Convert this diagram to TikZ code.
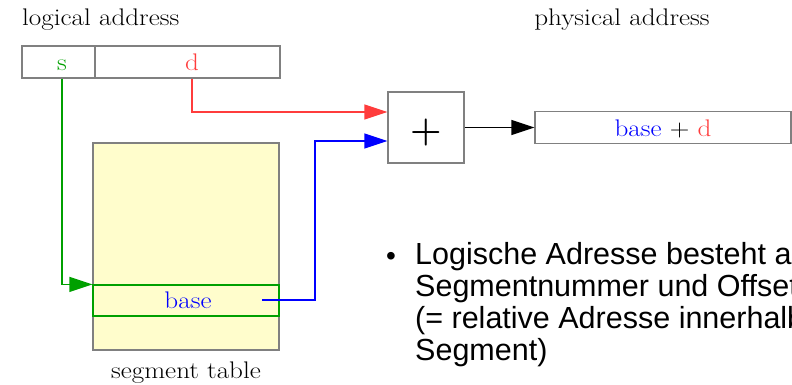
\documentclass[tikz,border=0pt]{standalone}
\usepackage{fontspec}
\newfontfamily\arialfont{Liberation Sans}
\newfontfamily\serifx{Latin Modern Roman}[FakeStretch=1.13]
\usetikzlibrary{arrows.meta}
\definecolor{cgreen}{RGB}{0,160,0}
\definecolor{cred}{RGB}{255,60,60}
\definecolor{cblue}{RGB}{0,0,255}
\definecolor{cgray}{RGB}{128,128,128}
\definecolor{cyellow}{RGB}{255,253,204}
\tikzset{
  box/.style={draw=cgray, line width=1.2pt, inner sep=0pt},
  lbl/.style={inner sep=0pt, font=\serifx\fontsize{24}{27}\selectfont},
  conn/.style={line width=1.3pt, -{Triangle[length=23pt,width=15pt]}},
}
\begin{document}
\begin{tikzpicture}[x=1pt,y=-1pt]
\useasboundingbox (0,0) rectangle (792,385);
\clip (0,0) rectangle (792,385);
% titles
\node[lbl, anchor=base west] (lt) at (22,26) {logical address};
\node[lbl, anchor=base] (pt) at (622,26) {physical address};
% logical address
\node[box, minimum width=73pt, minimum height=32pt] (s) at (58.5,62) {};
\node[box, minimum width=185pt, minimum height=32pt] (d) at (187.5,62) {};
\node[lbl, text=cgreen, anchor=base] (st) at (62,71) {s};
\node[lbl, text=cred, anchor=base] (dt) at (192,71) {d};
% plus
\node[box, minimum width=76pt, minimum height=71pt] (plus) at (426,127.5) {};
\node[inner sep=0pt, font=\bfseries\fontsize{36}{40}\selectfont] (plust) at (426,133) {+};
% physical
\node[box, minimum width=256pt, minimum height=32pt] (phys) at (663,127.5) {};
\node[lbl, anchor=base] (pht) at (663,136) {\textcolor{cblue}{base} + \textcolor{cred}{d}};
% segment table
\node[box, fill=cyellow, minimum width=186pt, minimum height=207pt] (tab) at (186,246.5) {};
\node[draw=cgreen, line width=1.2pt, inner sep=0pt, minimum width=186pt, minimum height=31pt] (row) at (186,300.5) {};
\node[lbl, text=cblue, anchor=base] (bt) at (188,308) {base};
\node[lbl, anchor=base] (segt) at (186,378) {segment table};
\coordinate (bend) at (262,300);
\coordinate (redin) at ([yshift=15.5pt]plus.west);
\coordinate (bluein) at ([yshift=-13.5pt]plus.west);
% connectors
\draw[conn, cgreen] (st.south |- s.south) |- (row.north west);
\draw[conn, cred] (dt.south |- d.south) |- (redin);
\draw[conn, cblue] (bend) -| (315,200) |- (bluein);
\draw[conn, black] (plus.east) -- (phys.west);
% bullet text
\node[anchor=base west, inner sep=0pt, align=left, font=\arialfont\fontsize{30.5}{31.7}\selectfont] (bul) at (415,360)
  {Logische Adresse besteht aus\\Segmentnummer und Offset\\(= relative Adresse innerhalb\\Segment)};
\node[anchor=base, inner sep=0pt, font=\arialfont\fontsize{28}{30}\selectfont] (dot) at (391,265) {\textbullet};
\end{tikzpicture}
\end{document}
